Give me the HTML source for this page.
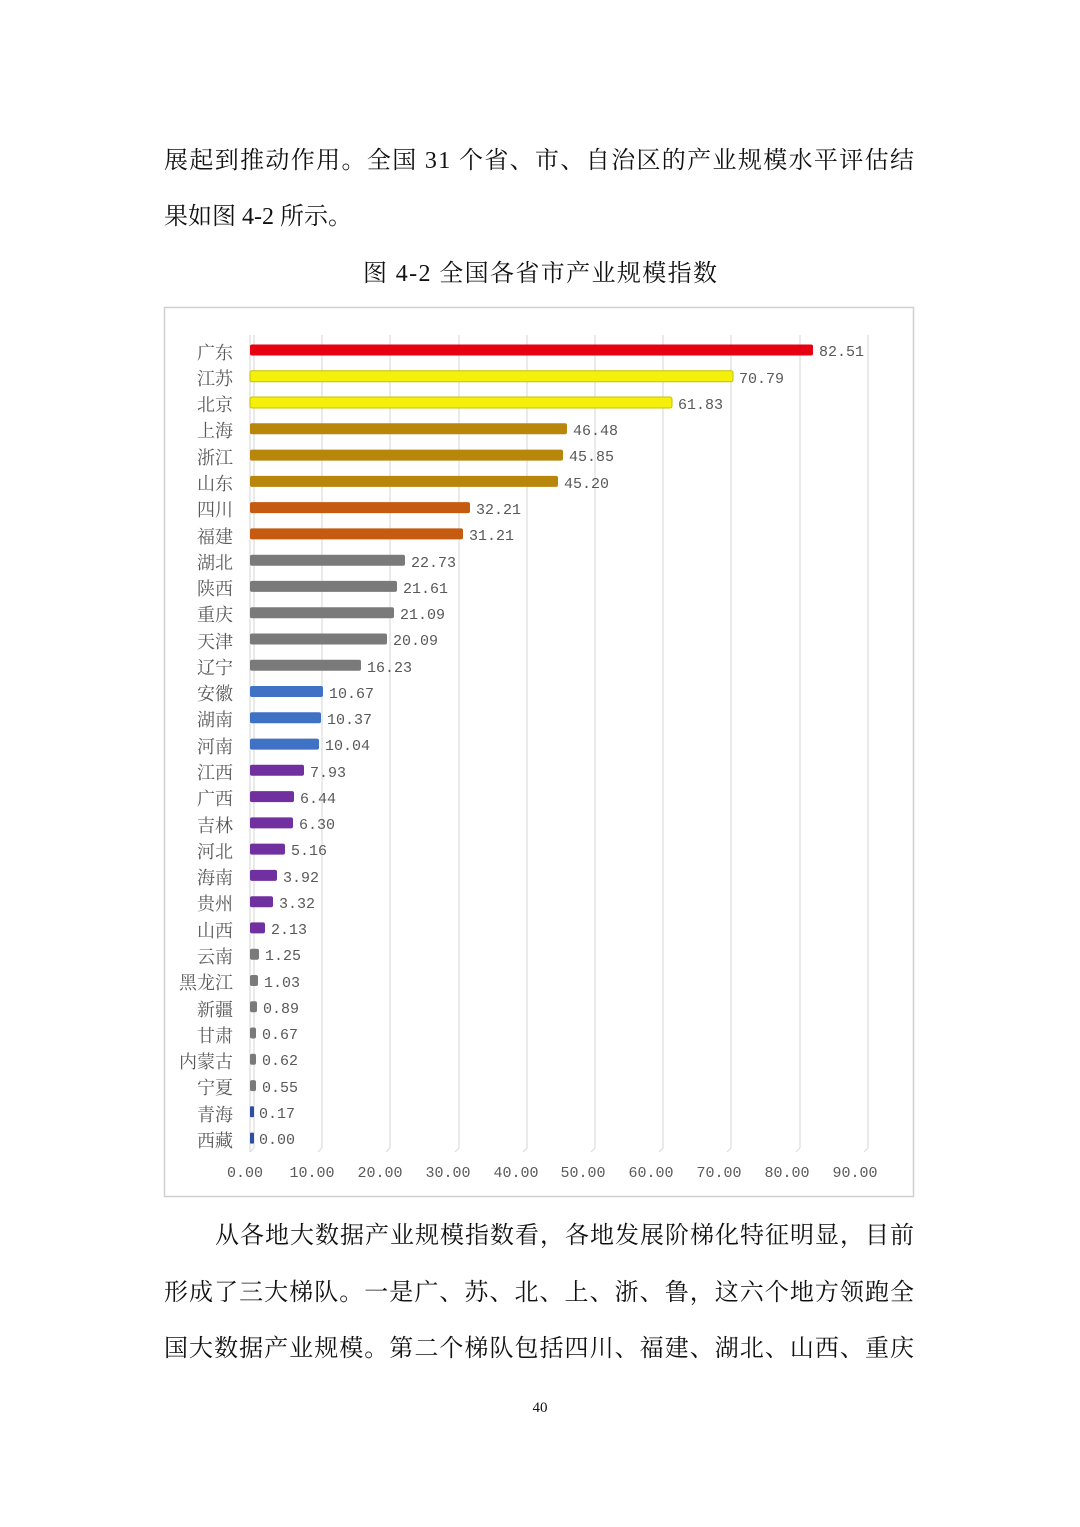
<!DOCTYPE html>
<html><head><meta charset="utf-8"><style>
html,body{margin:0;padding:0;background:#fff;}
svg{display:block;}
.t{font-family:"Liberation Serif","Noto Serif CJK SC",serif;font-size:24px;fill:#111;}
.l{font-family:"Liberation Serif","Noto Serif CJK SC",serif;font-size:18px;fill:#595959;text-anchor:end;}
.v{font-family:"Liberation Mono","Noto Serif CJK SC",monospace;font-size:15px;fill:#595959;}
.a{font-family:"Liberation Mono","Noto Serif CJK SC",monospace;font-size:15px;fill:#595959;text-anchor:middle;}
</style></head><body>
<svg width="1080" height="1527" viewBox="0 0 1080 1527" xmlns="http://www.w3.org/2000/svg">
<text class="t" x="164" y="168" textLength="750" lengthAdjust="spacing">展起到推动作用。全国 31 个省、市、自治区的产业规模水平评估结</text>
<text class="t" x="164" y="224" textLength="188" lengthAdjust="spacing">果如图 4-2 所示。</text>
<text class="t" x="363" y="281" textLength="354" lengthAdjust="spacing">图 4-2  全国各省市产业规模指数</text>
<rect x="164.5" y="307.5" width="749" height="889" fill="#fff" stroke="#d0d0d0" stroke-width="1.5"/>
<g stroke="#dcdcdc" stroke-width="1.2">
<line x1="254" y1="335" x2="254" y2="1148"/><line x1="322" y1="335" x2="322" y2="1148"/><line x1="390" y1="335" x2="390" y2="1148"/><line x1="459" y1="335" x2="459" y2="1148"/><line x1="527" y1="335" x2="527" y2="1148"/><line x1="595" y1="335" x2="595" y2="1148"/><line x1="663" y1="335" x2="663" y2="1148"/><line x1="731" y1="335" x2="731" y2="1148"/><line x1="800" y1="335" x2="800" y2="1148"/><line x1="868" y1="335" x2="868" y2="1148"/>
<line x1="250" y1="335" x2="250" y2="1152"/>
<line x1="254" y1="1148" x2="250" y2="1152"/><line x1="322" y1="1148" x2="318" y2="1152"/><line x1="390" y1="1148" x2="386" y2="1152"/><line x1="459" y1="1148" x2="455" y2="1152"/><line x1="527" y1="1148" x2="523" y2="1152"/><line x1="595" y1="1148" x2="591" y2="1152"/><line x1="663" y1="1148" x2="659" y2="1152"/><line x1="731" y1="1148" x2="727" y2="1152"/><line x1="800" y1="1148" x2="796" y2="1152"/><line x1="868" y1="1148" x2="864" y2="1152"/>
</g>
<g>
<rect x="250" y="344.5" width="563" height="11" rx="2" fill="#e60012"/>
<rect x="250" y="370.8" width="483" height="11" rx="2" fill="#f5f00a" stroke="#c8c000" stroke-width="1"/>
<rect x="250" y="397" width="422" height="11" rx="2" fill="#f5f00a" stroke="#c8c000" stroke-width="1"/>
<rect x="250" y="423.3" width="317" height="11" rx="2" fill="#b8860b"/>
<rect x="250" y="449.6" width="313" height="11" rx="2" fill="#b8860b"/>
<rect x="250" y="475.9" width="308" height="11" rx="2" fill="#b8860b"/>
<rect x="250" y="502.1" width="220" height="11" rx="2" fill="#c55a11"/>
<rect x="250" y="528.4" width="213" height="11" rx="2" fill="#c55a11"/>
<rect x="250" y="554.7" width="155" height="11" rx="2" fill="#7a7a7a"/>
<rect x="250" y="580.9" width="147" height="11" rx="2" fill="#7a7a7a"/>
<rect x="250" y="607.2" width="144" height="11" rx="2" fill="#7a7a7a"/>
<rect x="250" y="633.5" width="137" height="11" rx="2" fill="#7a7a7a"/>
<rect x="250" y="659.7" width="111" height="11" rx="2" fill="#7a7a7a"/>
<rect x="250" y="686" width="73" height="11" rx="2" fill="#3f72c4"/>
<rect x="250" y="712.3" width="71" height="11" rx="2" fill="#3f72c4"/>
<rect x="250" y="738.6" width="69" height="11" rx="2" fill="#3f72c4"/>
<rect x="250" y="764.8" width="54" height="11" rx="2" fill="#7030a0"/>
<rect x="250" y="791.1" width="44" height="11" rx="2" fill="#7030a0"/>
<rect x="250" y="817.4" width="43" height="11" rx="2" fill="#7030a0"/>
<rect x="250" y="843.6" width="35" height="11" rx="2" fill="#7030a0"/>
<rect x="250" y="869.9" width="27" height="11" rx="2" fill="#7030a0"/>
<rect x="250" y="896.2" width="23" height="11" rx="2" fill="#7030a0"/>
<rect x="250" y="922.4" width="15" height="11" rx="2" fill="#7030a0"/>
<rect x="250" y="948.7" width="9" height="11" rx="2" fill="#7a7a7a"/>
<rect x="250" y="975" width="8" height="11" rx="2" fill="#7a7a7a"/>
<rect x="250" y="1001.3" width="7" height="11" rx="2" fill="#7a7a7a"/>
<rect x="250" y="1027.5" width="6" height="11" rx="2" fill="#7a7a7a"/>
<rect x="250" y="1053.8" width="6" height="11" rx="2" fill="#7a7a7a"/>
<rect x="250" y="1080.1" width="6" height="11" rx="2" fill="#7a7a7a"/>
<rect x="250" y="1106.3" width="4" height="11" rx="1" fill="#2f4f9f"/>
<rect x="250" y="1132.6" width="4" height="11" rx="1" fill="#2f4f9f"/>
</g>
<g transform="translate(0,2)">
<text class="l" x="233" y="357">广东</text><text class="l" x="233" y="383">江苏</text><text class="l" x="233" y="409">北京</text><text class="l" x="233" y="435">上海</text><text class="l" x="233" y="462">浙江</text><text class="l" x="233" y="488">山东</text><text class="l" x="233" y="514">四川</text><text class="l" x="233" y="541">福建</text><text class="l" x="233" y="567">湖北</text><text class="l" x="233" y="593">陕西</text><text class="l" x="233" y="619">重庆</text><text class="l" x="233" y="646">天津</text><text class="l" x="233" y="672">辽宁</text><text class="l" x="233" y="698">安徽</text><text class="l" x="233" y="724">湖南</text><text class="l" x="233" y="751">河南</text><text class="l" x="233" y="777">江西</text><text class="l" x="233" y="803">广西</text><text class="l" x="233" y="830">吉林</text><text class="l" x="233" y="856">河北</text><text class="l" x="233" y="882">海南</text><text class="l" x="233" y="908">贵州</text><text class="l" x="233" y="935">山西</text><text class="l" x="233" y="961">云南</text><text class="l" x="233" y="987">黑龙江</text><text class="l" x="233" y="1014">新疆</text><text class="l" x="233" y="1040">甘肃</text><text class="l" x="233" y="1066">内蒙古</text><text class="l" x="233" y="1092">宁夏</text><text class="l" x="233" y="1119">青海</text><text class="l" x="233" y="1145">西藏</text>
</g>
<g>
<text class="v" x="819" y="356">82.51</text><text class="v" x="739" y="383">70.79</text><text class="v" x="678" y="409">61.83</text><text class="v" x="573" y="435">46.48</text><text class="v" x="569" y="461">45.85</text><text class="v" x="564" y="488">45.20</text><text class="v" x="476" y="514">32.21</text><text class="v" x="469" y="540">31.21</text><text class="v" x="411" y="567">22.73</text><text class="v" x="403" y="593">21.61</text><text class="v" x="400" y="619">21.09</text><text class="v" x="393" y="645">20.09</text><text class="v" x="367" y="672">16.23</text><text class="v" x="329" y="698">10.67</text><text class="v" x="327" y="724">10.37</text><text class="v" x="325" y="750">10.04</text><text class="v" x="310" y="777">7.93</text><text class="v" x="300" y="803">6.44</text><text class="v" x="299" y="829">6.30</text><text class="v" x="291" y="855">5.16</text><text class="v" x="283" y="882">3.92</text><text class="v" x="279" y="908">3.32</text><text class="v" x="271" y="934">2.13</text><text class="v" x="265" y="960">1.25</text><text class="v" x="264" y="987">1.03</text><text class="v" x="263" y="1013">0.89</text><text class="v" x="262" y="1039">0.67</text><text class="v" x="262" y="1065">0.62</text><text class="v" x="262" y="1092">0.55</text><text class="v" x="259" y="1118">0.17</text><text class="v" x="259" y="1144">0.00</text>
</g>
<g>
<text class="a" x="245" y="1177">0.00</text><text class="a" x="312" y="1177">10.00</text><text class="a" x="380" y="1177">20.00</text><text class="a" x="448" y="1177">30.00</text><text class="a" x="516" y="1177">40.00</text><text class="a" x="583" y="1177">50.00</text><text class="a" x="651" y="1177">60.00</text><text class="a" x="719" y="1177">70.00</text><text class="a" x="787" y="1177">80.00</text><text class="a" x="855" y="1177">90.00</text>
</g>
<text class="t" x="215" y="1243" textLength="699" lengthAdjust="spacing">从各地大数据产业规模指数看，各地发展阶梯化特征明显，目前</text>
<text class="t" x="164" y="1300" textLength="750" lengthAdjust="spacing">形成了三大梯队。一是广、苏、北、上、浙、鲁，这六个地方领跑全</text>
<text class="t" x="164" y="1356" textLength="750" lengthAdjust="spacing">国大数据产业规模。第二个梯队包括四川、福建、湖北、山西、重庆</text>
<text x="540" y="1412" text-anchor="middle" style="font-family:'Liberation Serif',serif;font-size:15px;fill:#111">40</text>
</svg>
</body></html>
